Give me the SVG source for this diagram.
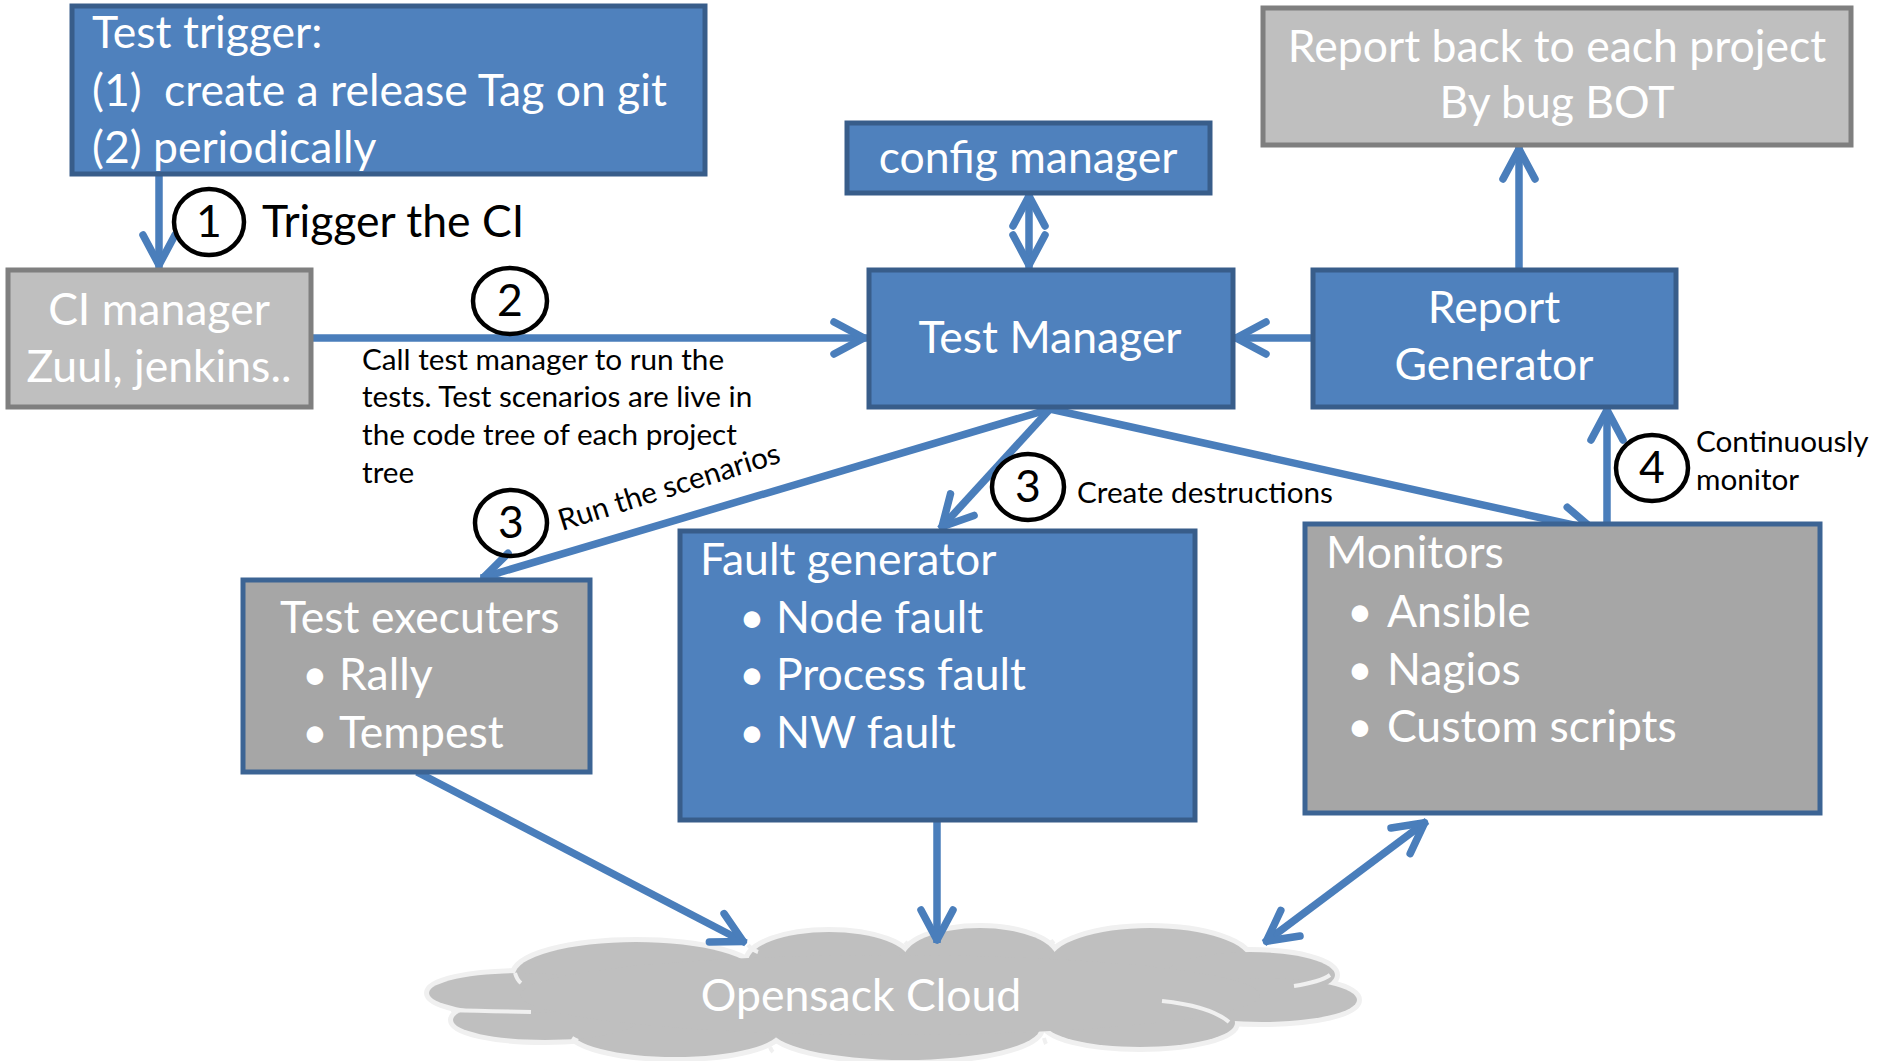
<svg xmlns="http://www.w3.org/2000/svg" width="1880" height="1061" viewBox="0 0 1880 1061">
<style>
text { font-family: Lato, "Liberation Sans", sans-serif; }
.big { font-size: 44.5px; fill: #ffffff; }
.bigk { font-size: 44.5px; fill: #000000; }
.sm { font-size: 29.7px; fill: #000000; }
.mid { text-anchor: middle; }
.blue { fill: #4f81bd; stroke: #385d8a; stroke-width: 5; }
.gray { fill: #bfbfbf; stroke: #7f7f7f; stroke-width: 5; }
.dgray { fill: #a6a6a6; stroke: #3c6494; stroke-width: 5; }
.num { fill: none; stroke: #000000; stroke-width: 4.5; }
.conn { fill: none; stroke: #4a7ebb; stroke-width: 7.5; }
.cloudo { fill: #bfbfbf; stroke: #f0f0f0; stroke-width: 10; }
.cloudi { fill: #bfbfbf; stroke: none; }
</style>
<defs>
<marker id="ah" viewBox="-45 -25 55 50" markerWidth="55" markerHeight="50" refX="0" refY="0" markerUnits="userSpaceOnUse" orient="auto-start-reverse">
<path d="M-33,-16 L-3,0 L-33,16" fill="none" stroke="#4a7ebb" stroke-width="7.5" stroke-linecap="round" stroke-linejoin="round"/>
</marker>
</defs>
<rect width="1880" height="1061" fill="#ffffff"/>

<g id="cloud">
<g class="cloudo">
<ellipse cx="636" cy="975" rx="121" ry="33"/>
<ellipse cx="829" cy="962" rx="81" ry="30"/>
<ellipse cx="980" cy="960" rx="77" ry="32"/>
<ellipse cx="1150" cy="962" rx="100" ry="34"/>
<ellipse cx="1250" cy="975" rx="85" ry="23"/>
<ellipse cx="1262" cy="1000" rx="95" ry="22"/>
<ellipse cx="1140" cy="1023" rx="95" ry="24"/>
<ellipse cx="905" cy="1028" rx="135" ry="32"/>
<ellipse cx="675" cy="1030" rx="105" ry="27"/>
<ellipse cx="545" cy="1020" rx="92" ry="20"/>
<ellipse cx="522" cy="993" rx="93" ry="20"/>
</g>
<g class="cloudi">
<ellipse cx="636" cy="975" rx="121" ry="33"/>
<ellipse cx="829" cy="962" rx="81" ry="30"/>
<ellipse cx="980" cy="960" rx="77" ry="32"/>
<ellipse cx="1150" cy="962" rx="100" ry="34"/>
<ellipse cx="1250" cy="975" rx="85" ry="23"/>
<ellipse cx="1262" cy="1000" rx="95" ry="22"/>
<ellipse cx="1140" cy="1023" rx="95" ry="24"/>
<ellipse cx="905" cy="1028" rx="135" ry="32"/>
<ellipse cx="675" cy="1030" rx="105" ry="27"/>
<ellipse cx="545" cy="1020" rx="92" ry="20"/>
<ellipse cx="522" cy="993" rx="93" ry="20"/>
<ellipse cx="890" cy="995" rx="370" ry="40"/>
</g>
<g fill="none" stroke="#f0f0f0" stroke-width="4">
<path d="M515,973 Q517,980 521,983"/>
<path d="M748,945 Q752,950 758,952"/>
<path d="M905,942 Q907,944 910,946"/>
<path d="M1051,940 Q1053,943 1054,944"/>
<path d="M1294,986 Q1320,982 1330,975"/>
<path d="M1162,1001 Q1210,1006 1229,1022"/>
<path d="M1044,1038 Q1045,1042 1046,1044"/>
<path d="M770,1047 Q771,1050 773,1052"/>
<path d="M572,1038 Q575,1040 578,1041"/>
<path d="M451,1010 Q480,1011 531,1012"/>
</g>
<text class="big mid" x="861" y="1011">Opensack Cloud</text>
</g>

<g id="connectors">
<path class="conn" d="M159,175 L159,268" marker-end="url(#ah)"/>
<path class="conn" d="M312,338 L867,338" marker-end="url(#ah)"/>
<path class="conn" d="M1029,193 L1029,268" marker-start="url(#ah)" marker-end="url(#ah)"/>
<path class="conn" d="M1313,338 L1233,338" marker-end="url(#ah)"/>
<path class="conn" d="M1519,268 L1519,146" marker-end="url(#ah)"/>
<path class="conn" d="M1050,409 L481,578" marker-end="url(#ah)"/>
<path class="conn" d="M1050,409 L940,529" marker-end="url(#ah)"/>
<path class="conn" d="M1050,409 L1596,530" marker-end="url(#ah)"/>
<path class="conn" d="M1607,522 L1607,407" marker-end="url(#ah)"/>
<path class="conn" d="M417,772 L746,943" marker-end="url(#ah)"/>
<path class="conn" d="M937,821 L937,943" marker-end="url(#ah)"/>
<path class="conn" d="M1427,821 L1264,943" marker-start="url(#ah)" marker-end="url(#ah)"/>
</g>

<g id="test-trigger">
<rect class="blue" x="72" y="6" width="633" height="168"/>
<text class="big" x="92" y="48">Test trigger:</text>
<text class="big" x="92" y="106">(1)</text>
<text class="big" x="164" y="106">create a release Tag on git</text>
<text class="big" x="92" y="163">(2) periodically</text>
</g>

<g id="ci-manager">
<rect class="gray" x="8" y="270" width="303" height="137"/>
<text class="big mid" x="159" y="325">CI manager</text>
<text class="big mid" x="159" y="382">Zuul, jenkins..</text>
</g>

<g id="config-manager">
<rect class="blue" x="847" y="123" width="363" height="70"/>
<text class="big mid" x="1028" y="173">config manager</text>
</g>

<g id="test-manager">
<rect class="blue" x="869" y="270" width="364" height="137"/>
<text class="big mid" x="1050" y="353">Test Manager</text>
</g>

<g id="report-back">
<rect class="gray" x="1263" y="8" width="588" height="137"/>
<text class="big mid" x="1557" y="62">Report back to each project</text>
<text class="big mid" x="1557" y="118">By bug BOT</text>
</g>

<g id="report-generator">
<rect class="blue" x="1313" y="270" width="363" height="137"/>
<text class="big mid" x="1494" y="323">Report</text>
<text class="big mid" x="1494" y="380">Generator</text>
</g>

<g id="test-executers">
<rect class="dgray" x="243" y="580" width="347" height="192"/>
<text class="big" x="280" y="633">Test executers</text>
<text class="big" x="302" y="690">•</text>
<text class="big" x="339" y="690">Rally</text>
<text class="big" x="302" y="748">•</text>
<text class="big" x="339" y="748">Tempest</text>
</g>

<g id="fault-generator">
<rect class="blue" x="680" y="531" width="515" height="289"/>
<text class="big" x="700" y="575">Fault generator</text>
<text class="big" x="739" y="633">•</text>
<text class="big" x="776" y="633">Node fault</text>
<text class="big" x="739" y="690">•</text>
<text class="big" x="776" y="690">Process fault</text>
<text class="big" x="739" y="748">•</text>
<text class="big" x="776" y="748">NW fault</text>
</g>

<g id="monitors">
<rect class="dgray" x="1305" y="524" width="515" height="289"/>
<text class="big" x="1326" y="568">Monitors</text>
<text class="big" x="1347" y="627">•</text>
<text class="big" x="1387" y="627">Ansible</text>
<text class="big" x="1347" y="685">•</text>
<text class="big" x="1387" y="685">Nagios</text>
<text class="big" x="1347" y="742">•</text>
<text class="big" x="1387" y="742">Custom scripts</text>
</g>

<g id="labels">
<ellipse class="num" cx="209" cy="222" rx="35" ry="33"/>
<text class="bigk mid" x="209" y="237">1</text>
<text class="bigk" x="262" y="237">Trigger the CI</text>

<ellipse class="num" cx="510" cy="301" rx="37" ry="33"/>
<text class="bigk mid" x="510" y="316">2</text>
<text class="sm" x="362" y="370">Call test manager to run the</text>
<text class="sm" x="362" y="407">tests. Test scenarios are live in</text>
<text class="sm" x="362" y="445">the code tree of each project</text>
<text class="sm" x="362" y="483">tree</text>

<ellipse class="num" cx="511" cy="523" rx="36" ry="33"/>
<text class="bigk mid" x="511" y="538">3</text>
<text class="sm" transform="translate(562,531) rotate(-17.4)">Run the scenarios</text>

<ellipse class="num" cx="1028" cy="487" rx="36" ry="33"/>
<text class="bigk mid" x="1028" y="502">3</text>
<text class="sm" x="1077" y="503">Create destructions</text>

<ellipse class="num" cx="1652" cy="468" rx="36" ry="33"/>
<text class="bigk mid" x="1652" y="483">4</text>
<text class="sm" x="1696" y="452">Continuously</text>
<text class="sm" x="1696" y="490">monitor</text>
</g>
</svg>
